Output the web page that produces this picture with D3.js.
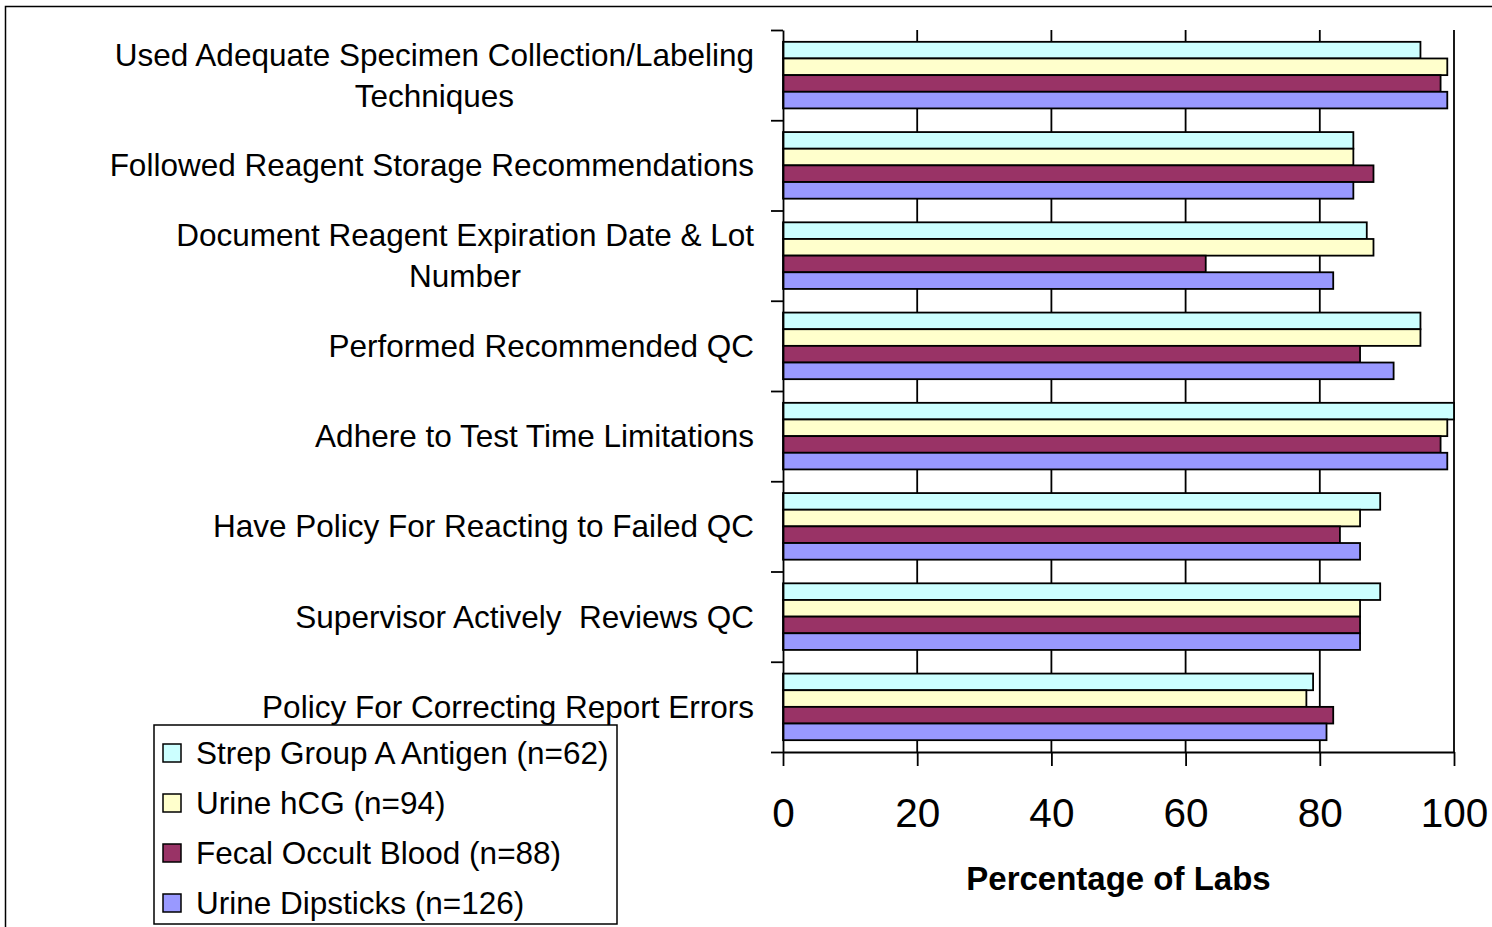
<!DOCTYPE html>
<html>
<head>
<meta charset="utf-8">
<script src="https://cdn.jsdelivr.net/npm/d3@7"></script>
<style>
  body { margin: 0; background: #fff; }
  svg { display: block; font-family: Arial, "Liberation Sans", sans-serif; }
  text { white-space: pre; }
</style>
</head>
<body>
<div id="container"></div>
<script>
/* DATA */
const categories = [
  "Used Adequate Specimen Collection/Labeling Techniques",
  "Followed Reagent Storage Recommendations",
  "Document Reagent Expiration Date & Lot Number",
  "Performed Recommended QC",
  "Adhere to Test Time Limitations",
  "Have Policy For Reacting to Failed QC",
  "Supervisor Actively  Reviews QC",
  "Policy For Correcting Report Errors"
];
const seriesNames = [
  "Strep Group A Antigen (n=62)",
  "Urine hCG (n=94)",
  "Fecal Occult Blood (n=88)",
  "Urine Dipsticks (n=126)"
];
const strepValues = [95, 85, 87, 95, 100, 89, 89, 79];
const hcgValues   = [99, 85, 88, 95, 99, 86, 86, 78];
const fecalValues = [98, 88, 63, 86, 98, 83, 86, 82];
const dipValues   = [99, 85, 82, 91, 99, 86, 86, 81];
const xTicks = [0, 20, 40, 60, 80, 100];
const colors = ["#CCFFFF", "#FFFFCC", "#993366", "#9999FF"];

const allValues = [strepValues, hcgValues, fecalValues, dipValues];

/* CONSTANTS */
const width = 1492;
const height = 927;
const plot = { left: 783, right: 1454, top: 30, bottom: 752 };

const svg = d3.select("#container")
  .append("svg")
  .attr("width", width)
  .attr("height", height);

// outer chart border (runs off the right and bottom edges)
svg.append("rect")
  .attr("x", 5.5).attr("y", 6.5)
  .attr("width", width + 20).attr("height", height + 20)
  .attr("fill", "none").attr("stroke", "#000").attr("stroke-width", 1.5);

/* SCALES */
const xScale = d3.scaleLinear()
  .domain([0, 100])
  .range([plot.left, plot.right]);

const yScale = d3.scaleBand()
  .domain(categories)
  .range([plot.top, plot.bottom])
  .paddingInner(0.262)
  .paddingOuter(0.131);

const innerScale = d3.scaleBand()
  .domain(seriesNames)
  .range([0, yScale.bandwidth()]);

// index scale for the category boundary ticks
const boundaryScale = d3.scaleLinear()
  .domain([0, categories.length])
  .range([plot.top, plot.bottom]);

/* GRIDLINES */
svg.append("g")
  .selectAll("line")
  .data(xTicks.filter(d => d > 0))
  .join("line")
  .attr("x1", d => xScale(d)).attr("x2", d => xScale(d))
  .attr("y1", plot.top).attr("y2", plot.bottom)
  .attr("stroke", "#000").attr("stroke-width", 1.8);

/* BARS */
const rows = [];
categories.forEach((c, i) => {
  seriesNames.forEach((s, j) => {
    rows.push({ cat: c, series: s, value: allValues[j][i], color: colors[j] });
  });
});

svg.append("g")
  .selectAll("rect")
  .data(rows)
  .join("rect")
  .attr("x", xScale(0))
  .attr("y", d => yScale(d.cat) + innerScale(d.series))
  .attr("width", d => xScale(d.value) - xScale(0))
  .attr("height", innerScale.bandwidth())
  .attr("fill", d => d.color)
  .attr("stroke", "#000")
  .attr("stroke-width", 1.8);

/* AXES */
const xAxis = d3.axisBottom(xScale)
  .tickValues(xTicks)
  .tickSize(14)
  .tickSizeOuter(0)
  .tickPadding(32);

svg.append("g")
  .attr("transform", `translate(0, ${plot.bottom})`)
  .call(xAxis)
  .call(g => g.selectAll("line, path").attr("stroke", "#000").attr("stroke-width", 1.8))
  .call(g => g.selectAll("text")
    .attr("font-size", 40.5)
    .attr("font-family", "Arial, 'Liberation Sans', sans-serif")
    .attr("fill", "#000"));

const yAxis = d3.axisLeft(boundaryScale)
  .tickValues(d3.range(categories.length + 1))
  .tickFormat("")
  .tickSize(12)
  .tickSizeOuter(0);

svg.append("g")
  .attr("transform", `translate(${plot.left}, 0)`)
  .call(yAxis)
  .call(g => g.selectAll("line, path").attr("stroke", "#000").attr("stroke-width", 1.8));

/* CATEGORY LABELS */
const labelRight = 754;
const labelSize = 31.5;
const lineGap = 41;
const maxLabelWidth = 665;

categories.forEach(c => {
  const g = svg.append("g");
  const cy = yScale(c) + yScale.bandwidth() / 2;
  // word wrap by measuring
  const words = c.split(" ");
  const lines = [];
  let current = null;
  const probe = g.append("text").attr("font-size", labelSize);
  words.forEach(w => {
    const trial = current === null ? w : current + " " + w;
    probe.text(trial);
    if (probe.node().getComputedTextLength() > maxLabelWidth && current !== null) {
      lines.push(current);
      current = w;
    } else {
      current = trial;
    }
  });
  lines.push(current);
  const widths = lines.map(l => { probe.text(l); return probe.node().getComputedTextLength(); });
  probe.remove();
  const blockWidth = d3.max(widths);
  const cx = labelRight - blockWidth / 2;
  lines.forEach((l, k) => {
    g.append("text")
      .attr("x", cx)
      .attr("y", cy + (k - (lines.length - 1) / 2) * lineGap)
      .attr("dy", "0.35em")
      .attr("text-anchor", "middle")
      .attr("font-size", labelSize)
      .attr("fill", "#000")
      .text(l);
  });
});

/* AXIS TITLE */
svg.append("text")
  .attr("x", (plot.left + plot.right) / 2)
  .attr("y", 890)
  .attr("text-anchor", "middle")
  .attr("font-size", 33)
  .attr("font-weight", "bold")
  .attr("fill", "#000")
  .text("Percentage of Labs");

/* LEGEND */
const legend = svg.append("g");
legend.append("rect")
  .attr("x", 154).attr("y", 725)
  .attr("width", 463).attr("height", 199)
  .attr("fill", "#fff").attr("stroke", "#000").attr("stroke-width", 1.5);

const legendY = d3.scalePoint()
  .domain(seriesNames)
  .range([753, 903]);

const items = legend.selectAll("g.item")
  .data(seriesNames)
  .join("g")
  .attr("class", "item")
  .attr("transform", d => `translate(0, ${legendY(d)})`);

items.append("rect")
  .attr("x", 163).attr("y", -9)
  .attr("width", 18).attr("height", 18)
  .attr("fill", (d, i) => colors[i])
  .attr("stroke", "#000").attr("stroke-width", 1.5);

items.append("text")
  .attr("x", 196)
  .attr("dy", "0.35em")
  .attr("font-size", 31.5)
  .attr("fill", "#000")
  .text(d => d);
</script>
</body>
</html>
